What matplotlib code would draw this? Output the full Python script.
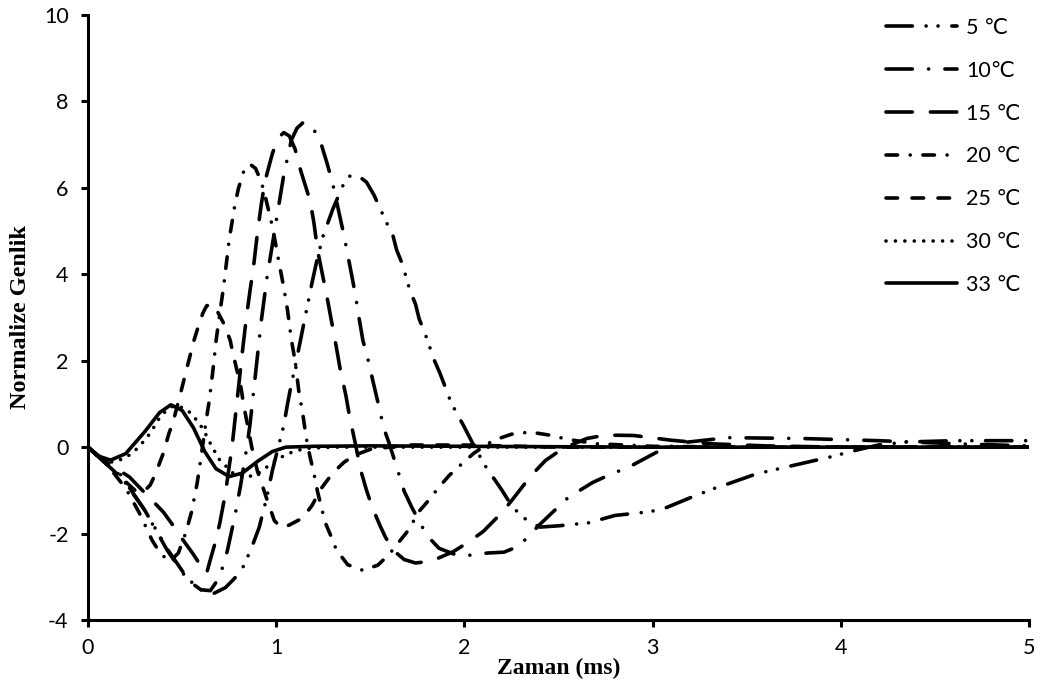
import matplotlib
matplotlib.use("Agg")
import matplotlib.pyplot as plt

# normalised amplitude vs time (ms) for each water temperature
x05 = [0, 0.1, 0.17, 0.3, 0.42, 0.53, 0.6, 0.67, 0.73, 0.78, 0.83, 0.88, 0.91, 0.93, 0.95, 0.98,
       1.02, 1.04, 1.06, 1.08, 1.1, 1.13, 1.16, 1.19, 1.22, 1.25, 1.3, 1.355, 1.39, 1.43, 1.48,
       1.52, 1.58, 1.62, 1.64, 1.67, 1.71, 1.74, 1.76, 1.79, 1.84, 1.87, 1.9, 1.93, 2.0, 2.04,
       2.11, 2.2, 2.24, 2.3, 2.4, 2.5, 2.66, 2.8, 2.97, 3.05, 3.2, 3.33, 3.4, 3.55, 3.7, 3.8,
       3.95, 4.1, 4.2, 4.35, 4.6, 5.0]
y05 = [0, -0.4, -0.65, -1.45, -2.35, -3.05, -3.3, -3.38, -3.25, -3.03, -2.73, -2.2, -1.85, -1.5,
       -1.16, -0.53, 0.16, 0.5, 1.0, 1.45, 1.85, 2.5, 3.15, 3.8, 4.4, 4.9, 5.5, 6.06, 6.27, 6.3,
       6.13, 5.83, 5.25, 4.9, 4.56, 4.24, 3.63, 3.31, 2.96, 2.64, 2.01, 1.71, 1.37, 1.02, 0.46,
       0.12, -0.43, -1.0, -1.28, -1.6, -1.85, -1.82, -1.75, -1.58, -1.5, -1.44, -1.17, -0.95,
       -0.85, -0.62, -0.47, -0.37, -0.22, -0.05, 0.05, 0.12, 0.15, 0.15]

x10 = [0, 0.1, 0.17, 0.3, 0.42, 0.53, 0.6, 0.65, 0.7, 0.74, 0.78, 0.81, 0.84, 0.86, 0.88, 0.9,
       0.92, 0.95, 0.98, 1.01, 1.04, 1.08, 1.11, 1.14, 1.17, 1.2, 1.24, 1.27, 1.3, 1.33, 1.36,
       1.4, 1.42, 1.435, 1.46, 1.49, 1.51, 1.55, 1.57, 1.6, 1.65, 1.68, 1.72, 1.8, 1.865, 1.96,
       2.05, 2.12, 2.21, 2.29, 2.4, 2.55, 2.68, 2.78, 2.87, 3.02, 3.15, 3.4, 3.8, 4.2, 4.6, 5.0]
y10 = [0, -0.4, -0.62, -1.45, -2.38, -3.08, -3.3, -3.32, -3.0, -2.4, -1.6, -0.9, -0.1, 0.5, 1.3,
       2.1, 2.9, 3.9, 4.7, 5.5, 6.3, 7.1, 7.38, 7.5, 7.5, 7.35, 7.0, 6.57, 6.1, 5.5, 4.9, 4.0,
       3.54, 3.12, 2.48, 1.99, 1.6, 0.86, 0.46, 0.09, -0.6, -1.02, -1.39, -2.04, -2.34, -2.5,
       -2.5, -2.45, -2.43, -2.29, -1.79, -1.17, -0.82, -0.62, -0.47, -0.12, 0.1, 0.22, 0.2,
       0.15, 0.08, 0.03]

x15 = [0, 0.1, 0.22, 0.3, 0.4, 0.45, 0.5, 0.555, 0.6, 0.63, 0.65, 0.675, 0.7, 0.73, 0.745,
       0.765, 0.78, 0.8, 0.82, 0.84, 0.86, 0.88, 0.9, 0.92, 0.94, 0.98, 1.01, 1.04, 1.07, 1.1,
       1.13, 1.18, 1.2, 1.22, 1.25, 1.27, 1.29, 1.32, 1.34, 1.37, 1.39, 1.42, 1.45, 1.48, 1.51,
       1.55, 1.58, 1.62, 1.68, 1.74, 1.8, 1.86, 1.94, 2.02, 2.1, 2.2, 2.25, 2.32, 2.38, 2.43,
       2.5, 2.55, 2.65, 2.75, 2.9, 3.1, 3.3, 3.6, 4.0, 5.0]
y15 = [0, -0.35, -0.69, -1.05, -1.5, -1.8, -2.12, -2.45, -2.75, -2.92, -2.6, -2.22, -1.76,
       -1.07, -0.6, 0.0, 0.6, 1.4, 2.2, 2.95, 3.6, 4.2, 4.95, 5.6, 6.15, 6.8, 7.15, 7.28, 7.2,
       6.9, 6.4, 5.7, 5.2, 4.55, 3.9, 3.47, 3.0, 2.3, 1.8, 1.2, 0.7, 0.09, -0.55, -1.0, -1.39,
       -1.8, -2.08, -2.38, -2.6, -2.68, -2.65, -2.57, -2.42, -2.2, -1.95, -1.51, -1.24, -0.85,
       -0.54, -0.31, -0.1, 0.02, 0.2, 0.28, 0.27, 0.16, 0.08, 0.03, 0.0, 0.0]

x20 = [0, 0.1, 0.2, 0.27, 0.31, 0.34, 0.39, 0.44, 0.48, 0.52, 0.55, 0.58, 0.6, 0.627, 0.645,
       0.665, 0.68, 0.7, 0.72, 0.75, 0.78, 0.8, 0.83, 0.86, 0.89, 0.92, 0.94, 0.98, 1.02, 1.04,
       1.06, 1.08, 1.1, 1.12, 1.14, 1.16, 1.18, 1.2, 1.22, 1.26, 1.29, 1.32, 1.38, 1.46, 1.54,
       1.6, 1.66, 1.71, 1.75, 1.81, 1.86, 1.92, 1.99, 2.05, 2.15, 2.25, 2.35, 2.45, 2.55, 2.7,
       3.0, 3.5, 5.0]
y20 = [0, -0.4, -0.95, -1.5, -1.87, -2.15, -2.5, -2.62, -2.45, -1.97, -1.5, -0.83, -0.25, 0.6,
       1.1, 1.83, 2.45, 3.1, 3.7, 4.8, 5.6, 6.0, 6.42, 6.55, 6.45, 6.15, 5.83, 5.1, 4.15, 3.7,
       3.17, 2.5, 2.0, 1.3, 0.8, 0.2, -0.23, -0.6, -1.04, -1.74, -2.05, -2.38, -2.72, -2.85,
       -2.73, -2.48, -2.15, -1.88, -1.53, -1.23, -0.95, -0.65, -0.37, -0.14, 0.15, 0.3, 0.35,
       0.28, 0.18, 0.08, 0.02, 0.0, 0.0]

x25 = [0, 0.05, 0.1, 0.2, 0.25, 0.29, 0.33, 0.36, 0.38, 0.4, 0.43, 0.45, 0.5, 0.52, 0.54, 0.56,
       0.585, 0.61, 0.63, 0.65, 0.67, 0.69, 0.72, 0.755, 0.77, 0.79, 0.81, 0.83, 0.85, 0.87,
       0.9, 0.95, 0.99, 1.03, 1.07, 1.14, 1.19, 1.24, 1.3, 1.36, 1.42, 1.5, 1.7, 2.0, 2.5, 5.0]
y25 = [0, -0.2, -0.4, -0.8, -1.0, -1.05, -0.88, -0.6, -0.37, -0.14, 0.32, 0.55, 1.39, 1.74,
       2.08, 2.43, 2.78, 3.1, 3.27, 3.3, 3.25, 3.12, 2.87, 2.48, 2.17, 1.8, 1.45, 0.9, 0.46,
       0.0, -0.55, -1.2, -1.7, -1.87, -1.8, -1.64, -1.35, -0.95, -0.6, -0.35, -0.18, -0.05,
       0.05, 0.05, 0.0, 0.0]

x30 = [0, 0.05, 0.13, 0.2, 0.27, 0.33, 0.39, 0.45, 0.5, 0.55, 0.61, 0.66, 0.7, 0.77, 0.84,
       0.9, 0.95, 1.0, 1.06, 1.15, 1.3, 2.0, 3.0, 4.0, 5.0]
y30 = [0, -0.2, -0.35, -0.25, 0.0, 0.32, 0.75, 0.95, 0.92, 0.78, 0.43, 0.0, -0.3, -0.6, -0.7,
       -0.62, -0.46, -0.3, -0.15, -0.03, 0.0, 0.0, 0.0, 0.0, 0.0]

x33 = [0, 0.05, 0.12, 0.2, 0.3, 0.38, 0.44, 0.5, 0.56, 0.62, 0.68, 0.75, 0.82, 0.9, 0.98, 1.05,
       1.2, 1.5, 2.0, 3.0, 4.0, 5.0]
y33 = [0, -0.2, -0.3, -0.15, 0.35, 0.8, 0.98, 0.85, 0.45, -0.1, -0.5, -0.68, -0.6, -0.33, -0.1,
       0.0, 0.02, 0.03, 0.02, 0.0, 0.0, 0.0]

labels = ["5 ℃", "10℃", "15 ℃", "20 ℃", "25 ℃", "30 ℃", "33 ℃"]
series = [(x05, y05), (x10, y10), (x15, y15), (x20, y20), (x25, y25), (x30, y30), (x33, y33)]

# dash patterns in units of line width
styles = [
    (0, (7.3, 3.8, 0.01, 3.3, 0.01, 3.8)),   # long dash dot dot
    (0, (7.3, 4.5, 0.01, 4.5)),              # long dash dot
    (0, (7.3, 5.0)),                         # long dash
    (0, (3.2, 3.5, 0.01, 3.5)),              # dash dot
    (0, (3.2, 4.0)),                         # dash
    (0, (0.01, 2.6)),                        # round dots
    "-",
]

plt.rcParams['font.family'] = ['Lato', 'DejaVu Sans']
plt.rcParams['axes.unicode_minus'] = False

fig = plt.figure(figsize=(10.43, 6.91), dpi=100)
ax = fig.add_axes([0.0844, 0.1027, 0.9022, 0.8756])

lw = 2.6
for (xs, ys), lab, ls in zip(series, labels, styles):
    ax.plot(xs, ys, color="black", lw=lw, linestyle=ls, label=lab,
            dash_capstyle="round", solid_capstyle="round")

ax.set_xlim(0, 5)
ax.set_ylim(-4, 10)
ax.set_xticks([0, 1, 2, 3, 4, 5])
ax.set_yticks(range(-4, 11, 2))

for side in ["top", "right"]:
    ax.spines[side].set_visible(False)
for side in ["left", "bottom"]:
    ax.spines[side].set_linewidth(2.2)

ax.tick_params(axis="both", direction="out", length=5, width=2.2, labelsize=15.5)
ax.tick_params(axis="x", pad=8)
ax.tick_params(axis="y", pad=9)

ax.set_xlabel("Zaman (ms)", fontfamily="Liberation Serif", fontweight="bold",
              fontsize=17, labelpad=0)
ax.set_ylabel("Normalize Genlik", fontfamily="Liberation Serif", fontweight="bold",
              fontsize=17.5, labelpad=9)

leg = ax.legend(loc="upper right", bbox_to_anchor=(1.012, 1.027), frameon=False,
                fontsize=15.5, handlelength=3.3, handletextpad=0.45, labelspacing=1.06)

fig.savefig("out.png", dpi=100)
